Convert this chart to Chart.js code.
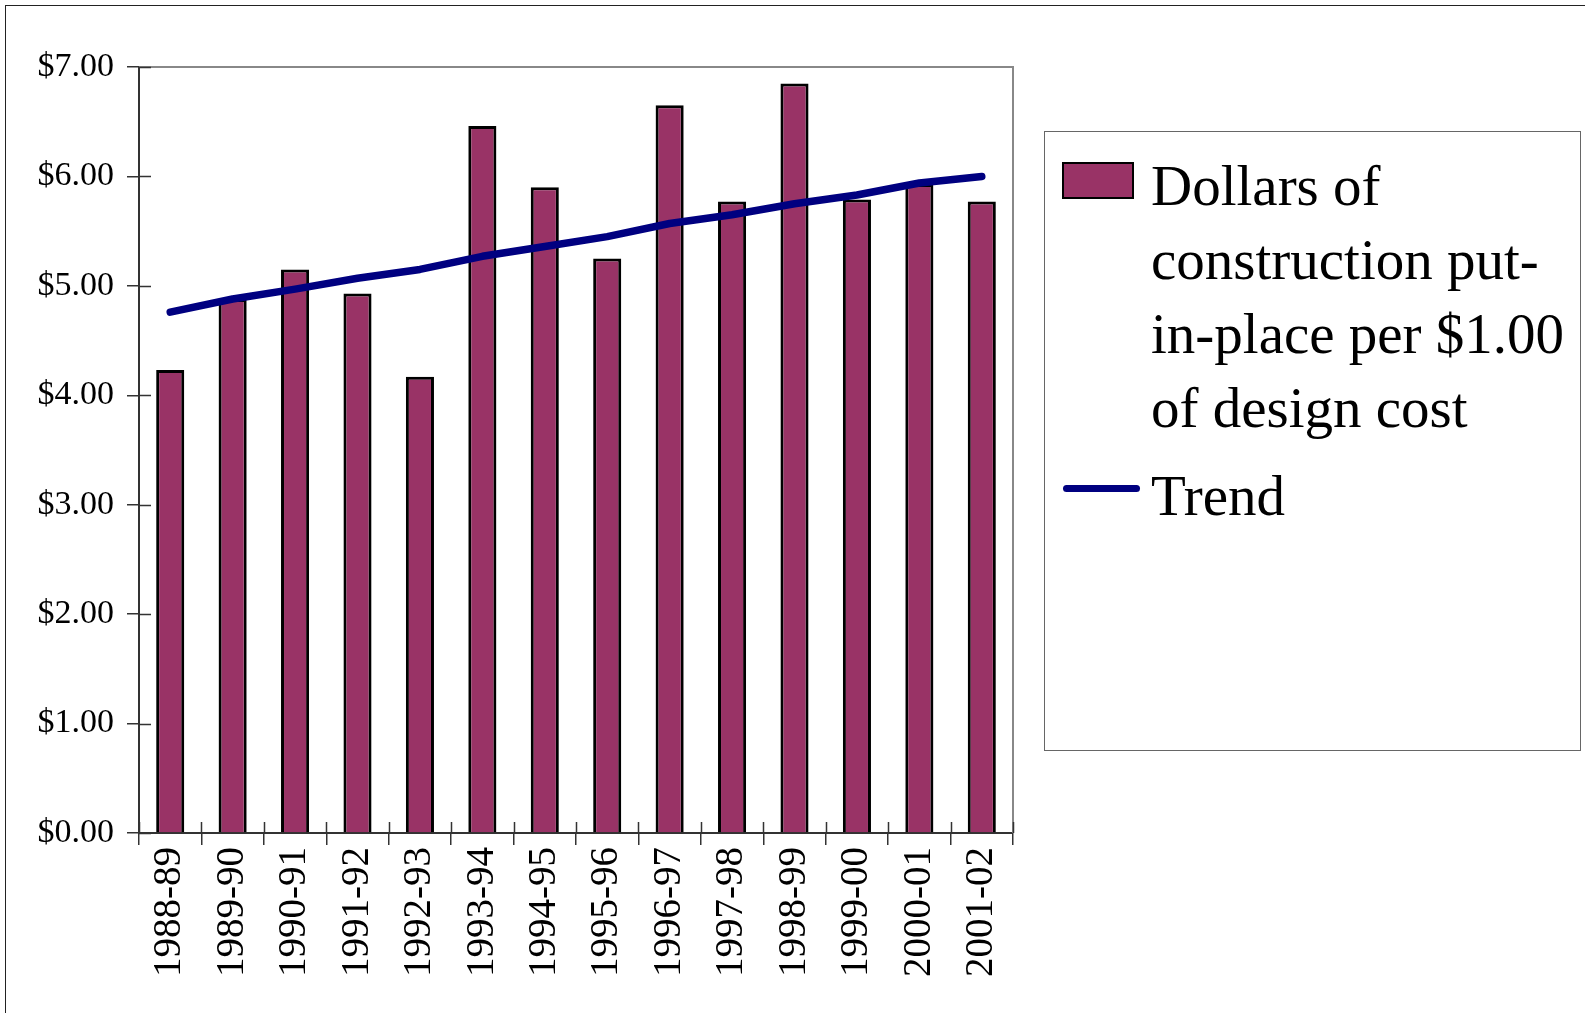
<!DOCTYPE html>
<html>
<head>
<meta charset="utf-8">
<script src="https://cdn.jsdelivr.net/npm/chart.js@4.4.1/dist/chart.umd.min.js"></script>
<style>
    body { margin: 0; background: #fff; }
    #wrap { position: relative; width: 1585px; height: 1013px; overflow: hidden; }
    #frame { position: absolute; left: 5px; top: 5px; width: 1600px; height: 1100px;
             border-left: 1px solid #222; border-top: 1px solid #222; }
    #chart-cost { position: absolute; left: 0; top: 0; }
    #legend { position: absolute; left: 1044px; top: 131px; width: 535px; height: 618px;
              border: 1px solid #666; background: #fff;
              font-family: 'Liberation Serif', 'Times New Roman', serif; font-size: 57px;
              line-height: 74px; color: #000; }
    .item { position: absolute; left: 106px; white-space: nowrap; }
    .swatch { position: absolute; }
</style>
</head>
<body>
<div id="wrap">
    <div id="frame"></div>
    <canvas id="chart-cost" width="1585" height="1013"></canvas>
    <div id="legend"></div>
</div>
<script>
const years = ['1988-89', '1989-90', '1990-91', '1991-92', '1992-93', '1993-94', '1994-95',
    '1995-96', '1996-97', '1997-98', '1998-99', '1999-00', '2000-01', '2001-02'];
const dollars = [4.23, 4.88, 5.15, 4.93, 4.17, 6.46, 5.90, 5.25, 6.65, 5.77, 6.85, 5.79, 5.93, 5.77];
const trend = [4.76, 4.88, 4.97, 5.07, 5.15, 5.27, 5.36, 5.45, 5.57, 5.65, 5.75, 5.83, 5.94, 6.00];
const yTicks = [0, 1, 2, 3, 4, 5, 6, 7];
const barLabel = ['Dollars of', 'construction put-', 'in-place per $1.00', 'of design cost'];
const trendLabel = 'Trend';

const ctx = document.getElementById('chart-cost');

// draws the inner half of the tick marks plus the grey top / right frame
const crossTicks = {
    id: 'crossTicks',
    afterDraw(chart) {
        const c = chart.ctx;
        const area = chart.chartArea;
        const y = chart.scales.y;
        c.save();
        c.strokeStyle = '#888';
        c.lineWidth = 2;
        c.beginPath();
        c.moveTo(area.left, area.top);
        c.lineTo(area.right, area.top);
        c.lineTo(area.right, area.bottom);
        c.stroke();

        c.strokeStyle = '#333';
        c.lineWidth = 1.5;
        c.beginPath();
        yTicks.forEach(function (v) {
            const py = Math.round(y.getPixelForValue(v)) + 0.5;
            c.moveTo(area.left, py);
            c.lineTo(area.left + 12, py);
        });
        const step = (area.right - area.left) / years.length;
        for (let i = 0; i <= years.length; i++) {
            const px = Math.round(area.left + i * step) + 0.5;
            c.moveTo(px, area.bottom);
            c.lineTo(px, area.bottom - 11);
        }
        c.stroke();
        c.restore();
    }
};

new Chart(ctx, {
    data: {
        labels: years,
        datasets: [
            {
                type: 'line',
                label: trendLabel,
                data: trend,
                borderColor: '#000080',
                borderWidth: 7.5,
                borderCapStyle: 'round',
                borderJoinStyle: 'round',
                pointRadius: 0,
                tension: 0,
                order: 0
            },
            {
                type: 'bar',
                label: barLabel.join(' '),
                data: dollars,
                backgroundColor: '#993366',
                borderColor: '#000',
                borderWidth: 3,
                categoryPercentage: 1,
                barPercentage: 0.45,
                order: 1
            }
        ]
    },
    options: {
        responsive: false,
        animation: false,
        layout: { padding: { left: 0, top: 67, right: 572, bottom: 0 } },
        plugins: {
            legend: { display: false },
            tooltip: { enabled: false }
        },
        scales: {
            x: {
                offset: true,
                grid: {
                    offset: true,
                    drawOnChartArea: false,
                    tickLength: 12,
                    color: '#333',
                    lineWidth: 1.5
                },
                border: { color: '#333', width: 2 },
                ticks: {
                    minRotation: 90,
                    maxRotation: 90,
                    autoSkip: false,
                    padding: 2,
                    color: '#000',
                    font: { family: 'Liberation Serif', size: 39 }
                },
                afterFit: function (scale) { scale.height = 180; }
            },
            y: {
                min: 0,
                max: 7,
                grid: {
                    drawOnChartArea: false,
                    tickLength: 12,
                    color: '#333',
                    lineWidth: 1.5
                },
                border: { color: '#333', width: 2 },
                ticks: {
                    stepSize: 1,
                    padding: 13,
                    color: '#000',
                    font: { family: 'Liberation Serif', size: 34 },
                    callback: function (v) { return '$' + v.toFixed(2); }
                },
                afterFit: function (scale) { scale.width = 139; }
            }
        }
    },
    plugins: [crossTicks]
});

// html legend with the wrapped label lines
const legend = document.getElementById('legend');
let html = '<div class="swatch" style="left:17px;top:30px;width:68px;height:33px;' +
    'background:#993366;border:2px solid #000;"></div>';
barLabel.forEach(function (line, i) {
    html += '<div class="item" style="top:' + (17 + i * 74) + 'px">' + line + '</div>';
});
html += '<div class="swatch" style="left:18px;top:353px;width:77px;height:7px;' +
    'background:#000080;border-radius:4px;"></div>';
html += '<div class="item" style="top:327px">' + trendLabel + '</div>';
legend.innerHTML = html;
</script>
</body>
</html>
